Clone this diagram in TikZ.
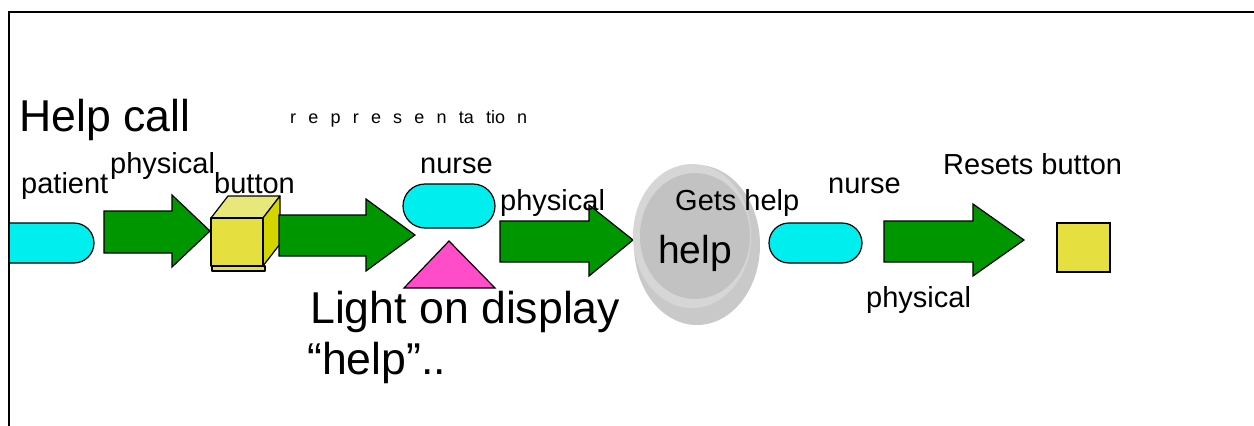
\documentclass[tikz,border=0pt]{standalone}
\usepackage{fontspec}
\setmainfont{Liberation Sans}
\definecolor{pillcyan}{RGB}{0,238,238}
\definecolor{arrowgreen}{RGB}{0,150,0}
\definecolor{boxyellow}{RGB}{229,224,64}
\definecolor{boxtop}{RGB}{232,232,122}
\definecolor{boxside}{RGB}{212,212,0}
\definecolor{lightpink}{RGB}{255,76,200}
\tikzset{
  pill/.style={draw=black, line width=1.2pt, fill=pillcyan, rounded corners=20pt},
  fatarrow/.style={draw=black, line width=1.2pt, fill=arrowgreen},
  cubeface/.style={draw=black, line width=1.2pt, line join=round},
  lbl/.style={inner sep=0pt, anchor=base west, font=\fontsize{29}{35}\selectfont},
  biglbl/.style={inner sep=0pt, anchor=base west, font=\fontsize{44.6}{51}\selectfont}
}
\begin{document}
\begin{tikzpicture}[x=1pt,y=-1pt]
\useasboundingbox (0,0) rectangle (1254,426);

\begin{scope}
\clip (9,0) rectangle (1254,426);
\draw[pill] (-30,223) rectangle (94,263); %patient
\end{scope}
\draw[line width=1.2pt] (9,426) -- (9,12) -- (1254,12); %frame

\draw[fatarrow] (104,211) -- (172,211) -- (172,195) -- (210,231) -- (172,267) -- (172,253) -- (104,253) -- cycle; %patient to button

\draw[cubeface,fill=boxyellow] (212,266) rectangle (265,271); %foot
\draw[cubeface,fill=boxtop] (211,218) -- (228,196) -- (280,196) -- (263,218) -- cycle; %top
\draw[cubeface,fill=boxside] (263,218) -- (280,196) -- (280,244) -- (263,266) -- cycle; %right
\draw[cubeface,fill=boxyellow] (211,218) rectangle (263,266); %front

\draw[fatarrow] (279,215) -- (366,215) -- (366,199) -- (415,235) -- (366,271) -- (366,256) -- (279,256) -- cycle; %button to display

\draw[pill,rounded corners=22pt] (403,184) rectangle (495,228); %nurse
\draw[line width=1.2pt,fill=lightpink] (404,288) -- (449,241) -- (495,288) -- cycle; %light

\draw[fatarrow] (500,221) -- (589,221) -- (589,205) -- (633,240) -- (589,276) -- (589,262) -- (500,262) -- cycle; %nurse to help

\fill[black!21] (697,245) ellipse (63 and 80); %shadow
\fill[black!16] (692,236) ellipse (59 and 72); %ring
\fill[black!24] (695,236) ellipse (55 and 63); %face

\draw[pill] (769,223) rectangle (862,263); %nurse
\draw[fatarrow] (884,221) -- (973,221) -- (973,204) -- (1024,240) -- (973,276) -- (973,262) -- (884,262) -- cycle; %nurse to reset
\draw[line width=1.2pt,fill=boxyellow] (1057,223) rectangle (1110,272); %reset button

\node[biglbl] (helpcall) at (19,131) {Help call};
\node[inner sep=0pt,anchor=base west,font=\fontsize{18}{21}\selectfont] (repr) at (290,123) {\spaceskip=12.2pt r e p r e s e n ta tio n};
\node[lbl] (patient) at (21,193) {patient};
\node[lbl] (phys1) at (110,173) {physical};
\node[lbl] (button) at (214,193) {button};
\node[lbl] (nurse1) at (420,173) {nurse};
\node[lbl] (phys2) at (500,210) {physical};
\node[lbl] (getshelp) at (675,210) {Gets help};
\node[inner sep=0pt,anchor=base west,font=\fontsize{39}{45}\selectfont] (help) at (658,263) {help};
\node[lbl] (nurse2) at (828,193) {nurse};
\node[lbl] (resets) at (943,174) {Resets button};
\node[lbl] (phys3) at (866,307) {physical};
\node[biglbl] (light1) at (310,323) {Light on display};
\node[biglbl] (light2) at (307,374) {“help”..};
\end{tikzpicture}
\end{document}
